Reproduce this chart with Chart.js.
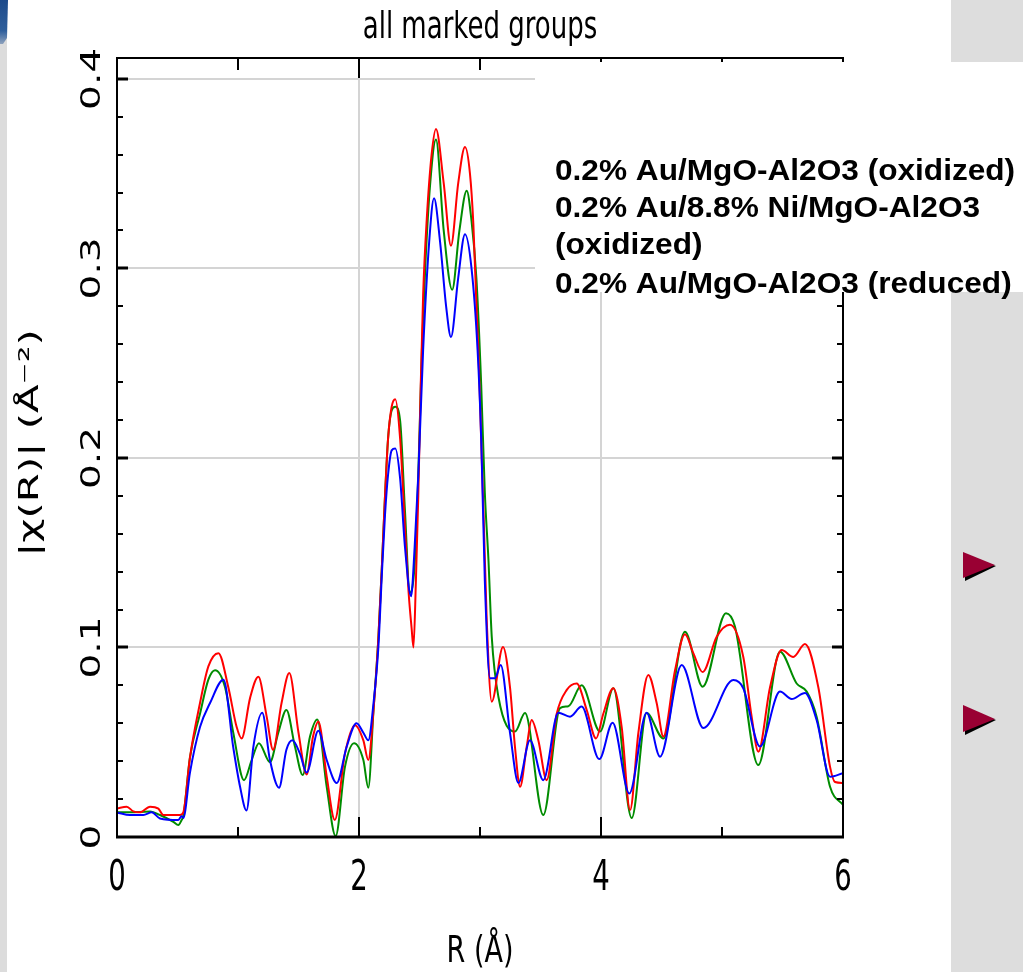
<!DOCTYPE html>
<html>
<head>
<meta charset="utf-8">
<script src="https://cdn.jsdelivr.net/npm/chart.js"></script>
<style>
  html, body { margin: 0; padding: 0; background: #ffffff; overflow: hidden; }
  canvas { display: block; }
</style>
</head>
<body>
<canvas id="c" width="1023" height="972"></canvas>
<script>
// ---------------- DATA ----------------
const chartTitle = 'all marked groups';
const xAxisTitle = 'R (Å)';
const yAxisTitle = '|χ(R)| (Å⁻²)';
const legendLines = [
  '0.2% Au/MgO-Al2O3 (oxidized)',
  '0.2% Au/8.8% Ni/MgO-Al2O3',
  '(oxidized)',
  '0.2% Au/MgO-Al2O3 (reduced)'
];
const seriesNames = [
  '0.2% Au/MgO-Al2O3 (oxidized)',
  '0.2% Au/8.8% Ni/MgO-Al2O3 (oxidized)',
  '0.2% Au/MgO-Al2O3 (reduced)'
];

const xTickValues = [0, 2, 4, 6];
const xTickLabels = ['0', '2', '4', '6'];
const yTickValues = [0, 0.1, 0.2, 0.3, 0.4];
const yTickLabels = ['0', '0.1', '0.2', '0.3', '0.4'];
const xGridValues = [2, 4];
const yGridValues = [0.1, 0.2, 0.3, 0.4];
const xMinorTicks = [1, 2, 3, 4, 5];
const xMajorTicks = [2, 4];
const yMinorTicks = [0.02, 0.04, 0.06, 0.08, 0.10, 0.12, 0.14, 0.16, 0.18, 0.20,
                     0.22, 0.24, 0.26, 0.28, 0.30, 0.32, 0.34, 0.36, 0.38, 0.40];
const yMajorTicks = [0.1, 0.2, 0.3, 0.4];

// Series 1 (blue)
const blueR = [0, 0.107, 0.218, 0.287, 0.355, 0.507, 0.534, 0.548, 0.603, 0.686, 0.769, 0.88,
  0.96, 1.017, 1.07, 1.127, 1.20, 1.264, 1.339, 1.40, 1.449, 1.512, 1.567, 1.664, 1.733, 1.816,
  1.898, 1.98, 2.036, 2.077, 2.12, 2.16, 2.19, 2.215, 2.24, 2.27, 2.30, 2.34, 2.38, 2.43, 2.46,
  2.49, 2.53, 2.58, 2.62, 2.67, 2.72, 2.76, 2.82, 2.876, 2.93, 2.98, 3.01, 3.04, 3.083, 3.124,
  3.171, 3.248, 3.317, 3.413, 3.523, 3.647, 3.744, 3.84, 3.986, 4.096, 4.234, 4.377, 4.488,
  4.667, 4.846, 5.094, 5.176, 5.314, 5.479, 5.576, 5.686, 5.782, 5.893, 6.0];
const blueV = [0.013, 0.0116, 0.0116, 0.013, 0.0098, 0.009, 0.011, 0.010, 0.034, 0.058, 0.0707, 0.083,
  0.0476, 0.0265, 0.014, 0.0476, 0.0655, 0.0406, 0.026, 0.046, 0.051, 0.044, 0.034, 0.056, 0.0406, 0.0285,
  0.0476, 0.060, 0.055, 0.051, 0.0707, 0.10, 0.14, 0.17, 0.191, 0.204, 0.205, 0.189, 0.153, 0.127, 0.153,
  0.191, 0.257, 0.314, 0.337, 0.314, 0.28, 0.2638, 0.295, 0.318, 0.30, 0.257, 0.21, 0.135, 0.0838, 0.0838,
  0.0907, 0.055, 0.0285, 0.051, 0.030, 0.0656, 0.0635, 0.0688, 0.0411, 0.0603, 0.023, 0.0656, 0.0424,
  0.0907, 0.0575, 0.0828, 0.0785, 0.0477, 0.0767, 0.0728, 0.076, 0.0617, 0.0318, 0.0337];

// Series 2 (red)
const redR = [0, 0.08, 0.135, 0.19, 0.273, 0.342, 0.383, 0.52, 0.548, 0.603, 0.686, 0.755, 0.838,
  0.92, 0.989, 1.03, 1.10, 1.168, 1.237, 1.29, 1.36, 1.424, 1.50, 1.567, 1.62, 1.664, 1.733, 1.80,
  1.884, 1.967, 2.036, 2.077, 2.12, 2.16, 2.19, 2.215, 2.24, 2.27, 2.30, 2.34, 2.38, 2.41, 2.435,
  2.45, 2.47, 2.49, 2.51, 2.53, 2.56, 2.60, 2.636, 2.70, 2.76, 2.82, 2.876, 2.917, 2.945, 2.973,
  2.986, 3.014, 3.033, 3.055, 3.097, 3.19, 3.248, 3.289, 3.331, 3.386, 3.427, 3.482, 3.551, 3.634,
  3.717, 3.799, 3.882, 3.959, 4.019, 4.102, 4.171, 4.24, 4.309, 4.391, 4.46, 4.515, 4.612, 4.694,
  4.763, 4.84, 4.956, 5.066, 5.176, 5.245, 5.30, 5.397, 5.493, 5.589, 5.686, 5.796, 5.893, 5.934, 6.0];
const redV = [0.0151, 0.016, 0.0135, 0.013, 0.016, 0.015, 0.0116, 0.0116, 0.013, 0.042, 0.0707, 0.090, 0.097,
  0.079, 0.058, 0.052, 0.0734, 0.0845, 0.0635, 0.046, 0.0707, 0.0865, 0.055, 0.033, 0.053, 0.061, 0.032, 0.009,
  0.044, 0.059, 0.051, 0.0406, 0.067, 0.105, 0.144, 0.18, 0.21, 0.227, 0.231, 0.21, 0.163, 0.129, 0.11,
  0.10, 0.1345, 0.18, 0.238, 0.286, 0.326, 0.36, 0.3736, 0.345, 0.312, 0.345, 0.364, 0.35, 0.3235, 0.2765,
  0.2576, 0.2005, 0.163, 0.1155, 0.0714, 0.1003, 0.079, 0.0476, 0.0265, 0.0476, 0.0617, 0.051, 0.030, 0.065,
  0.0776, 0.081, 0.067, 0.052, 0.065, 0.0785, 0.058, 0.0142, 0.055, 0.0855, 0.0707, 0.053, 0.088, 0.107,
  0.097, 0.087, 0.1057, 0.112, 0.095, 0.0635, 0.045, 0.079, 0.0987, 0.095, 0.1018, 0.079, 0.037, 0.029, 0.0285];

// Series 3 (green)
const greenR = [0, 0.107, 0.273, 0.355, 0.466, 0.507, 0.534, 0.548, 0.603, 0.686, 0.755, 0.81, 0.893,
  0.961, 1.05, 1.113, 1.173, 1.264, 1.333, 1.40, 1.471, 1.535, 1.595, 1.655, 1.733, 1.807, 1.884, 1.959,
  2.036, 2.077, 2.12, 2.16, 2.19, 2.215, 2.24, 2.27, 2.30, 2.34, 2.38, 2.42, 2.46, 2.49, 2.52, 2.55, 2.59,
  2.636, 2.70, 2.77, 2.83, 2.89, 2.93, 2.97, 3.01, 3.04, 3.07, 3.097, 3.152, 3.289, 3.372, 3.523, 3.661,
  3.73, 3.84, 3.992, 4.102, 4.254, 4.377, 4.515, 4.694, 4.84, 5.033, 5.107, 5.30, 5.479, 5.617, 5.70,
  5.782, 5.893, 6.0];
const greenV = [0.013, 0.013, 0.0135, 0.0116, 0.008, 0.0063, 0.009, 0.011, 0.042, 0.065, 0.083, 0.088, 0.079,
  0.055, 0.030, 0.0406, 0.0495, 0.0395, 0.055, 0.067, 0.0476, 0.0327, 0.053, 0.062, 0.0265, 0.0005, 0.037, 0.0495,
  0.0406, 0.026, 0.067, 0.105, 0.144, 0.18, 0.21, 0.225, 0.227, 0.2195, 0.172, 0.129, 0.1438, 0.191, 0.2573, 0.304, 0.346,
  0.368, 0.32, 0.2887, 0.32, 0.341, 0.325, 0.295, 0.2385, 0.1816, 0.146, 0.1057, 0.074, 0.0556, 0.0654, 0.0116, 0.068,
  0.069, 0.080, 0.0556, 0.0785, 0.010, 0.0654, 0.052, 0.1083, 0.0793, 0.118, 0.111, 0.038, 0.0978, 0.081, 0.0767,
  0.0635, 0.0265, 0.0169];

const seriesColors = ['#0000ff', '#ff0000', '#008c00'];

// ---------------- HELPERS ----------------
function pts(rs, vs) { return rs.map((r, i) => ({ x: r, y: vs[i] })); }

function drawText(ctx, s, x, y, font, sx, sy, rot, align) {
  ctx.save();
  ctx.translate(x, y);
  ctx.scale(sx, sy);
  if (rot) ctx.rotate(rot);
  ctx.font = font;
  ctx.textAlign = align || 'center';
  ctx.textBaseline = 'alphabetic';
  ctx.fillStyle = '#000000';
  ctx.fillText(s, 0, 0);
  ctx.restore();
}

const decor = {
  id: 'decor',
  beforeDraw(chart) {
    const ctx = chart.ctx;
    ctx.save();
    ctx.fillStyle = '#ffffff';
    ctx.fillRect(0, 0, 1023, 972);
    // left slide strip
    ctx.fillStyle = '#dcdcdc';
    ctx.fillRect(0, 0, 7, 972);
    const g = ctx.createLinearGradient(0, 0, 0, 44);
    g.addColorStop(0, '#1d4a8a');
    g.addColorStop(0.7, '#2f5f9c');
    g.addColorStop(1, '#8ea2bd');
    ctx.fillStyle = g;
    ctx.beginPath();
    ctx.moveTo(0, 0); ctx.lineTo(8, 0); ctx.lineTo(7, 38); ctx.lineTo(3, 44); ctx.lineTo(0, 44);
    ctx.closePath(); ctx.fill();
    // right slide panel
    ctx.fillStyle = '#dddddd';
    ctx.fillRect(951, 0, 72, 972);
    // bullets
    [[552, 565, 578], [705, 719, 732]].forEach(([t, m, b]) => {
      ctx.fillStyle = '#000000';
      ctx.beginPath();
      ctx.moveTo(965, t + 4); ctx.lineTo(996, m + 1); ctx.lineTo(965, b + 3); ctx.closePath(); ctx.fill();
      ctx.fillStyle = '#990033';
      ctx.beginPath();
      ctx.moveTo(963, t); ctx.lineTo(995, m); ctx.lineTo(963, b); ctx.closePath(); ctx.fill();
    });
    ctx.restore();
  },
  afterDatasetsDraw(chart) {
    const ctx = chart.ctx;
    const xs = chart.scales.x, ys = chart.scales.y;
    const a = chart.chartArea;
    ctx.save();
    ctx.strokeStyle = '#000000';
    ctx.lineCap = 'butt';
    // frame
    ctx.lineWidth = 2;
    ctx.strokeRect(a.left, a.top, a.right - a.left, a.bottom - a.top);
    ctx.lineWidth = 3;
    ctx.beginPath(); ctx.moveTo(a.left - 1, a.bottom); ctx.lineTo(a.right + 1, a.bottom); ctx.stroke();
    // x ticks
    ctx.lineWidth = 2;
    xMinorTicks.forEach(v => {
      const px = Math.round(xs.getPixelForValue(v));
      const major = xMajorTicks.includes(v);
      ctx.beginPath();
      ctx.moveTo(px, a.bottom); ctx.lineTo(px, a.bottom - (major ? 20 : 10));
      ctx.moveTo(px, a.top); ctx.lineTo(px, a.top + (major ? 20 : 12));
      ctx.stroke();
    });
    // y ticks
    yMinorTicks.forEach(v => {
      const py = Math.round(ys.getPixelForValue(v));
      const major = yMajorTicks.some(m => Math.abs(m - v) < 1e-6);
      ctx.lineWidth = major ? 3 : 2;
      ctx.beginPath();
      ctx.moveTo(a.left, py); ctx.lineTo(a.left + (major ? 11 : 6), py);
      ctx.moveTo(a.right, py); ctx.lineTo(a.right - (major ? 11 : 6), py);
      ctx.stroke();
    });
    // tick labels
    xTickValues.forEach((v, i) => {
      drawText(ctx, xTickLabels[i], xs.getPixelForValue(v), 890, '29px "DejaVu Sans"', 0.95, 1.5, 0, 'center');
    });
    yTickValues.forEach((v, i) => {
      drawText(ctx, yTickLabels[i], 100, ys.getPixelForValue(v), '27px "DejaVu Sans"', 1, 1.45, -Math.PI / 2, 'center');
    });
    // titles
    drawText(ctx, chartTitle, 480, 38, '25px "DejaVu Sans"', 1.04, 1.5, 0, 'center');
    drawText(ctx, xAxisTitle, 480, 962, '25px "DejaVu Sans"', 1.08, 1.5, 0, 'center');
    drawText(ctx, yAxisTitle, 38, 443, '27px "DejaVu Sans"', 1, 1.55, -Math.PI / 2, 'center');
    // legend box (overlaid text box)
    ctx.fillStyle = '#ffffff';
    ctx.fillRect(535, 62, 488, 230);
    const baselines = [180, 217, 254, 293];
    legendLines.forEach((s, i) => {
      drawText(ctx, s, 555, baselines[i], 'bold 29px "Liberation Sans", Arial, sans-serif', 1.09, 1, 0, 'left');
    });
    ctx.restore();
  }
};

const gridGray = '#d4d4d4';

new Chart(document.getElementById('c'), {
  type: 'line',
  data: {
    datasets: [
      { label: seriesNames[0], data: pts(blueR, blueV), borderColor: seriesColors[0] },
      { label: seriesNames[1], data: pts(redR, redV), borderColor: seriesColors[1] },
      { label: seriesNames[2], data: pts(greenR, greenV), borderColor: seriesColors[2] }
    ]
  },
  options: {
    responsive: false,
    animation: false,
    devicePixelRatio: 1,
    parsing: true,
    layout: { padding: { left: 117, top: 58, right: 180, bottom: 135 } },
    elements: {
      line: { borderWidth: 2, fill: false, cubicInterpolationMode: 'monotone', borderJoinStyle: 'round' },
      point: { radius: 0, hoverRadius: 0 }
    },
    plugins: { legend: { display: false }, title: { display: false }, tooltip: { enabled: false } },
    events: [],
    scales: {
      x: {
        type: 'linear', min: 0, max: 6,
        afterBuildTicks: s => { s.ticks = xGridValues.map(v => ({ value: v })); },
        ticks: { display: false },
        grid: { color: gridGray, lineWidth: 2, drawTicks: false },
        border: { display: false }
      },
      y: {
        type: 'linear', min: 0, max: 0.411,
        afterBuildTicks: s => { s.ticks = yGridValues.map(v => ({ value: v })); },
        ticks: { display: false },
        grid: { color: gridGray, lineWidth: 2, drawTicks: false },
        border: { display: false }
      }
    }
  },
  plugins: [decor]
});
</script>
</body>
</html>
